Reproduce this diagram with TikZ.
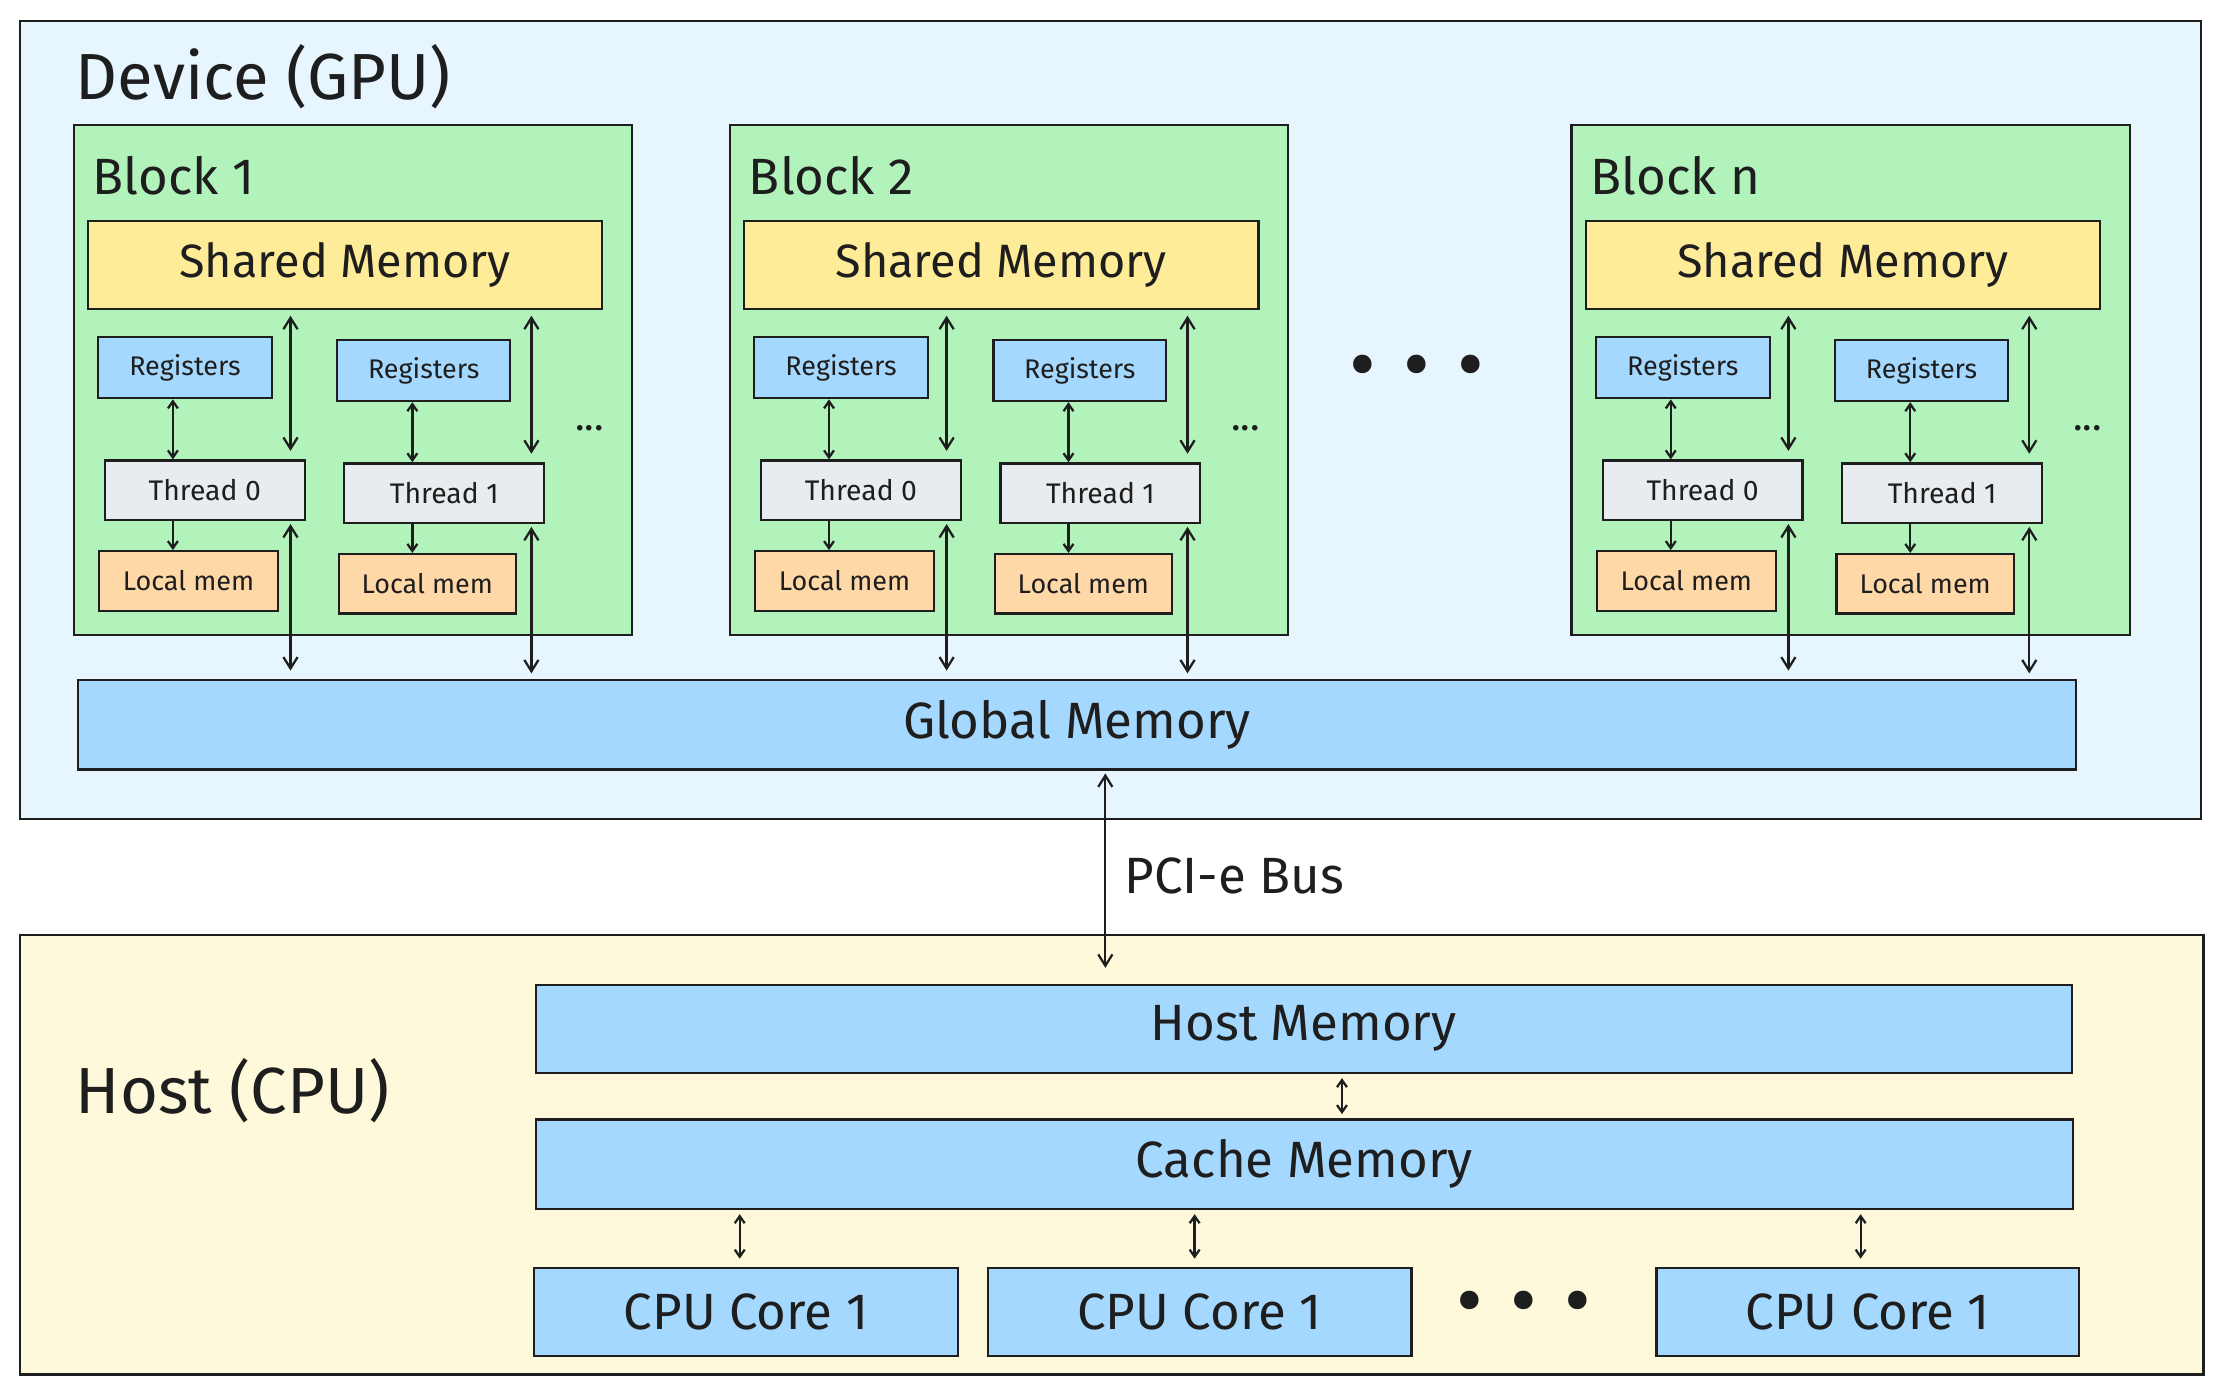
\documentclass[tikz,border=0pt]{standalone}
\usepackage{fontspec}
\setmainfont{Fira Sans}
\usetikzlibrary{arrows.meta}
\definecolor{devbg}{HTML}{E7F5FF}
\definecolor{hostbg}{HTML}{FFF9DB}
\definecolor{grn}{HTML}{B2F2BB}
\definecolor{ylw}{HTML}{FFEC99}
\definecolor{blu}{HTML}{A5D8FF}
\definecolor{gry}{HTML}{E9ECEF}
\definecolor{org}{HTML}{FFD8A8}
\definecolor{ink}{HTML}{1E1E1E}
\newcommand\bx[7]{\node[#6, minimum width={#4pt-#2pt}, minimum height={#5pt-#3pt}] (#1) at ({(#2+#4)/2},{(#3+#5)/2}) {#7};}
\newcommand\fs[1]{\fontsize{#1}{#1}\selectfont}
\tikzset{
 x=1pt,y=-1pt,
 box/.style={draw=ink,line width=1.6pt,inner sep=0pt,text=ink},
 arr/.style={draw=ink,line width=1.6pt,{Straight Barb[length=8pt,width=10pt]}-{Straight Barb[length=8pt,width=10pt]}},
 sarr/.style={draw=ink,line width=1.6pt,-{Straight Barb[length=5pt,width=7pt]}},
 darr/.style={draw=ink,line width=1.6pt,{Straight Barb[length=5pt,width=7pt]}-{Straight Barb[length=5pt,width=7pt]}},
 bigdots/.style={text=ink,font=\fs{58}},
}
\newcommand\gblock[3]{%
 \begin{scope}[xshift=#1pt]
 \bx{#3}{52}{88}{446}{448}{box,fill=grn}{}
 \node[anchor=west,text=ink,font=\fs{36}] (#3lab) at (62,124) {#2};
 \bx{#3sm}{62}{156}{425}{218}{box,fill=ylw,font=\fs{33}}{Shared Memory}
 \bx{#3ra}{69}{238}{192}{281}{box,fill=blu,font=\fs{19}}{Registers}
 \bx{#3rb}{238}{240}{360}{283}{box,fill=blu,font=\fs{19}}{Registers}
 \bx{#3ta}{74}{325}{215}{367}{box,fill=gry,font=\fs{20}}{Thread 0}
 \bx{#3tb}{243}{327}{384}{369}{box,fill=gry,font=\fs{20}}{Thread 1}
 \bx{#3la}{70}{389}{196}{431}{box,fill=org,font=\fs{19}}{Local mem}
 \bx{#3lb}{239}{391}{364}{433}{box,fill=org,font=\fs{19}}{Local mem}
 \node[text=ink,font=\fs{28}] (#3dots) at (416,302) {...};
 \coordinate (#3xa) at (205,0);
 \coordinate (#3xb) at (375,0);
 \coordinate (#3ya) at (122,0);
 \coordinate (#3yb) at (291,0);
 \end{scope}
 \draw[darr] (#3ra.south -| #3ya) -- (#3ta.north -| #3ya);
 \draw[darr] (#3rb.south -| #3yb) -- (#3tb.north -| #3yb);
 \draw[sarr] (#3ta.south -| #3ya) -- (#3la.north -| #3ya);
 \draw[sarr] (#3tb.south -| #3yb) -- (#3lb.north -| #3yb);
 \draw[arr] ([yshift=-4pt]#3sm.south -| #3xa) -- ([yshift=6pt]#3ta.north -| #3xa);
 \draw[arr] ([yshift=-4pt]#3sm.south -| #3xb) -- ([yshift=6pt]#3tb.north -| #3xb);
 \draw[arr] ([yshift=-2pt]#3ta.south -| #3xa) -- ([yshift=6pt]gm.north -| #3xa);
 \draw[arr] ([yshift=-2pt]#3tb.south -| #3xb) -- ([yshift=4pt]gm.north -| #3xb);
}
\begin{document}
\begin{tikzpicture}
\useasboundingbox[fill=white] (0,0) rectangle (1568,984);
\bx{dev}{14}{15}{1553}{578}{box,fill=devbg}{}
\node[anchor=west,text=ink,font=\fs{46}] (devlab) at (50,54) {Device (GPU)};
\bx{gm}{55}{480}{1465}{543}{box,fill=blu,font=\fs{36}}{Global Memory}
\gblock{0}{Block 1}{b1}
\gblock{463}{Block 2}{b2}
\gblock{1057}{Block n}{bn}
\node[bigdots] (gdots) at (1000,264) {•\,\,•\,\,•};
\bx{host}{14}{660}{1555}{970}{box,fill=hostbg}{}
\node[anchor=west,text=ink,font=\fs{46}] (hostlab) at (50,770) {Host (CPU)};
\bx{hm}{378}{695}{1462}{757}{box,fill=blu,font=\fs{36}}{Host Memory}
\bx{cm}{378}{790}{1463}{853}{box,fill=blu,font=\fs{36}}{Cache Memory}
\bx{c1}{377}{895}{676}{957}{box,fill=blu,font=\fs{36}}{CPU Core 1}
\bx{c2}{697}{895}{996}{957}{box,fill=blu,font=\fs{36}}{CPU Core 1}
\bx{c3}{1169}{895}{1467}{957}{box,fill=blu,font=\fs{36}}{CPU Core 1}
\node[bigdots] (hdots) at (1075,924) {•\,\,•\,\,•};
\coordinate (pb) at (780,683);
\draw[arr] ([yshift=-2pt]gm.south -| pb) -- (pb);
\node[anchor=west,text=ink,font=\fs{36}] (pcil) at (790,618) {PCI-e Bus};
\coordinate (hx) at (947,0);
\draw[darr] ([yshift=-3pt]hm.south -| hx) -- ([yshift=3pt]cm.north -| hx);
\foreach \c/\xx in {c1/522,c2/843,c3/1313}{
 \draw[darr] ([yshift=-3pt]cm.south -| \xx,0) -- ([yshift=6pt]\c.north -| \xx,0);
}
\end{tikzpicture}
\end{document}
